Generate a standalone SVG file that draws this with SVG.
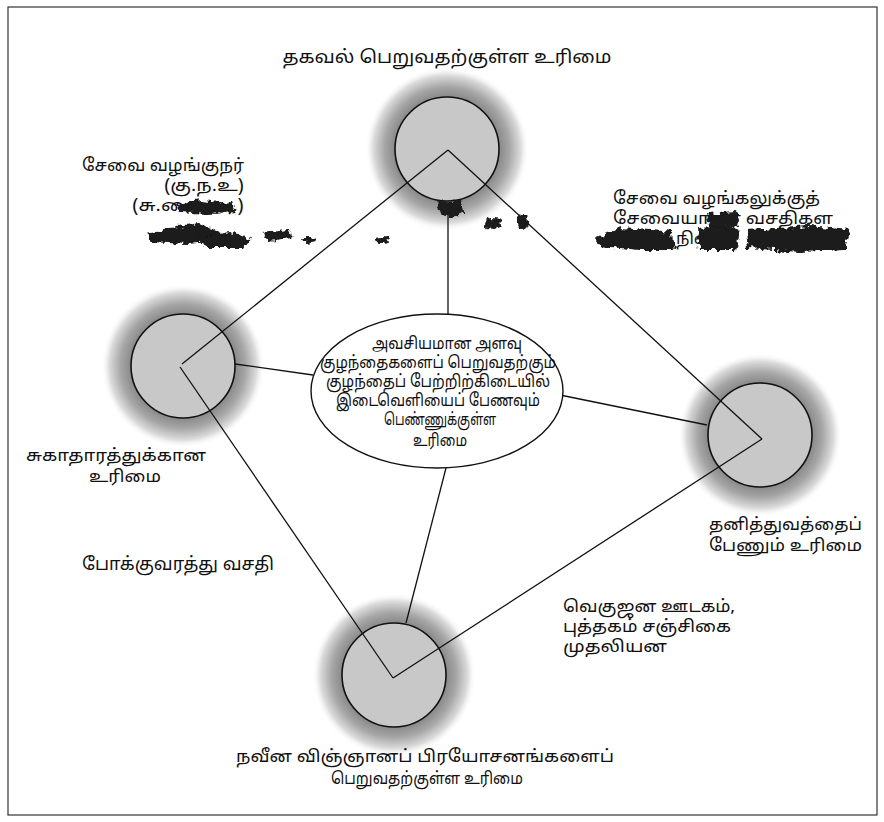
<svg xmlns="http://www.w3.org/2000/svg" width="884" height="822" viewBox="0 0 884 822">
<defs>
<radialGradient id="halo" cx="0.5" cy="0.5" r="0.5">
<stop offset="0" stop-color="#8a8a8a"/>
<stop offset="0.64" stop-color="#8a8a8a"/>
<stop offset="0.76" stop-color="#a6a6a6"/>
<stop offset="0.9" stop-color="#dcdcdc"/>
<stop offset="1" stop-color="#ffffff" stop-opacity="0"/>
</radialGradient>
<filter id="rough" x="-30%" y="-80%" width="160%" height="260%">
<feTurbulence type="fractalNoise" baseFrequency="0.18" numOctaves="2" seed="3" result="n"/>
<feDisplacementMap in="SourceGraphic" in2="n" scale="9" xChannelSelector="R" yChannelSelector="G" result="d"/>
<feGaussianBlur in="d" stdDeviation="0.7"/>
</filter>
</defs>
<style>
.halo{fill:url(#halo)}
.disc{fill:#c8c8c8;stroke:#111;stroke-width:1.6}
.ell{fill:#fff;stroke:#111;stroke-width:1.4}
.ln{stroke:#111;stroke-width:1.3;fill:none}
text{font-family:"Noto Sans Tamil","Noto Sans","DejaVu Sans",sans-serif;font-size:17px;fill:#111}
.big{font-size:18px}
.m{text-anchor:middle}
.smudge{fill:#1a1a1a}
</style>
<rect x="0" y="0" width="884" height="822" fill="#fff"/>
<rect x="8" y="7" width="869" height="808" fill="none" stroke="#333" stroke-width="1.2"/>

<g id="node-top"><circle class="halo" cx="447" cy="149" r="82"/><circle class="disc" cx="447" cy="149" r="52"/></g>
<g id="node-left"><circle class="halo" cx="183" cy="366" r="82"/><circle class="disc" cx="183" cy="366" r="52"/></g>
<g id="node-right"><circle class="halo" cx="760" cy="435" r="82"/><circle class="disc" cx="760" cy="435" r="52"/></g>
<g id="node-bottom"><circle class="halo" cx="394" cy="675" r="82"/><circle class="disc" cx="394" cy="675" r="52"/></g>

<g id="connectors">
<line class="ln" x1="448" y1="150" x2="182" y2="364"/>
<line class="ln" x1="448" y1="150" x2="762" y2="439"/>
<line class="ln" x1="180" y1="367" x2="393" y2="678"/>
<line class="ln" x1="762" y1="439" x2="393" y2="678"/>
<line class="ln" x1="448" y1="201" x2="448" y2="314"/>
<line class="ln" x1="235" y1="364" x2="313" y2="375"/>
<line class="ln" x1="707" y1="425" x2="560" y2="395"/>
<line class="ln" x1="406" y1="623" x2="446" y2="468"/>
</g>

<g id="node-center">
<ellipse class="ell" cx="437" cy="391" rx="126" ry="77"/>
<text class="m" x="447" y="349" textLength="150" lengthAdjust="spacingAndGlyphs">அவசியமான அளவு</text>
<text class="m" x="438" y="368" textLength="236" lengthAdjust="spacingAndGlyphs">குழந்தைகளைப் பெறுவதற்கும்</text>
<text class="m" x="438" y="387" textLength="224" lengthAdjust="spacingAndGlyphs">குழந்தைப் பேற்றிற்கிடையில்</text>
<text class="m" x="438" y="406" textLength="204" lengthAdjust="spacingAndGlyphs">இடைவெளியைப் பேணவும்</text>
<text class="m" x="440" y="425" textLength="112" lengthAdjust="spacingAndGlyphs">பெண்ணுக்குள்ள</text>
<text class="m" x="440" y="446" textLength="54" lengthAdjust="spacingAndGlyphs">உரிமை</text>
</g>

<g id="labels">
<text class="big m" x="447" y="63" textLength="329" lengthAdjust="spacingAndGlyphs">தகவல் பெறுவதற்குள்ள உரிமை</text>
<text x="82" y="171" textLength="162" lengthAdjust="spacingAndGlyphs">சேவை வழங்குநர்</text>
<text x="164" y="191" textLength="80" lengthAdjust="spacingAndGlyphs">(கு.ந.உ)</text>
<text x="132" y="211" textLength="112" lengthAdjust="spacingAndGlyphs">(சு.வை.அ.)</text>
<text x="613" y="204" textLength="207" lengthAdjust="spacingAndGlyphs">சேவை வழங்கலுக்குத்</text>
<text x="613" y="224" textLength="220" lengthAdjust="spacingAndGlyphs">சேவையாளர் வசதிகள</text>
<text x="676" y="244">நிலை</text>
<text x="26" y="461" textLength="180" lengthAdjust="spacingAndGlyphs">சுகாதாரத்துக்கான</text>
<text x="89" y="482" textLength="72" lengthAdjust="spacingAndGlyphs">உரிமை</text>
<text class="big" x="82" y="570" textLength="192" lengthAdjust="spacingAndGlyphs">போக்குவரத்து வசதி</text>
<text x="709" y="530" textLength="153" lengthAdjust="spacingAndGlyphs">தனித்துவத்தைப்</text>
<text x="709" y="551" textLength="153" lengthAdjust="spacingAndGlyphs">பேணும் உரிமை</text>
<text x="563" y="612" textLength="172" lengthAdjust="spacingAndGlyphs">வெகுஜன ஊடகம்,</text>
<text x="563" y="632" textLength="168" lengthAdjust="spacingAndGlyphs">புத்தகம் சஞ்சிகை</text>
<text x="563" y="652" textLength="104" lengthAdjust="spacingAndGlyphs">முதலியன</text>
<text class="m" x="425" y="762" textLength="378" lengthAdjust="spacingAndGlyphs">நவீன விஞ்ஞானப் பிரயோசனங்களைப்</text>
<text class="m" x="427" y="784" textLength="192" lengthAdjust="spacingAndGlyphs">பெறுவதற்குள்ள உரிமை</text>
</g>

<g id="smudges" filter="url(#rough)">
<path class="smudge" d="M176 204 L200 200 L232 203 L236 212 L206 214 L180 212 Z"/>
<path class="smudge" d="M146 234 L170 228 L200 224 L222 232 L214 242 L186 244 L150 242 Z"/>
<path class="smudge" d="M198 238 L230 232 L250 238 L244 248 L206 248 Z"/>
<path class="smudge" d="M262 232 L288 229 L292 238 L268 241 Z"/>
<ellipse class="smudge" cx="308" cy="240" rx="8" ry="3"/>
<ellipse class="smudge" cx="382" cy="240" rx="9" ry="3"/>
<path class="smudge" d="M437 202 L462 200 L464 212 L452 218 L440 214 Z"/>
<ellipse class="smudge" cx="493" cy="224" rx="9" ry="5"/>
<ellipse class="smudge" cx="523" cy="222" rx="6" ry="8"/>
<path class="smudge" d="M596 238 L620 228 L650 230 L672 232 L674 250 L640 250 L600 246 Z"/>
<path class="smudge" d="M698 228 L730 226 L740 232 L736 250 L700 250 Z"/>
<path class="smudge" d="M706 214 L736 212 L740 226 L710 228 Z"/>
<path class="smudge" d="M746 230 L810 226 L850 230 L846 250 L800 252 L748 248 Z"/>
</g>
</svg>
